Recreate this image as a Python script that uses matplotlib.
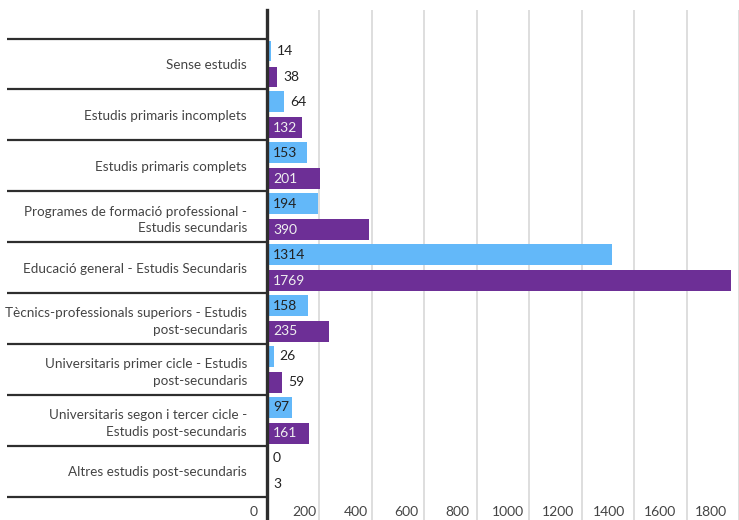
import matplotlib.pyplot as plt

categories = [
    'Sense estudis',
    'Estudis primaris incomplets',
    'Estudis primaris complets',
    'Programes de formació professional -\nEstudis secundaris',
    'Educació general - Estudis Secundaris',
    'Tècnics-professionals superiors - Estudis\npost-secundaris',
    'Universitaris primer cicle - Estudis\npost-secundaris',
    'Universitaris segon i tercer cicle -\nEstudis post-secundaris',
    'Altres estudis post-secundaris',
]
serie_a = [14, 64, 153, 194, 1314, 158, 26, 97, 0]
serie_b = [38, 132, 201, 390, 1769, 235, 59, 161, 3]
x_ticks = [0, 200, 400, 600, 800, 1000, 1200, 1400, 1600, 1800]

plt.rcParams['font.family'] = ['Lato', 'DejaVu Sans']

W, H = 739, 520
fig = plt.figure(figsize=(W / 100, H / 100), dpi=100)
# axes: from the vertical axis line (x=267px) to the right edge, y 10px..520px
ax = fig.add_axes([267 / W, 0, (W - 267) / W, 510 / H])

color_a = '#63b8f9'
color_b = '#6d2f96'
bar_h = 0.41
off = 0.255

ys = list(range(len(categories)))
ax.barh([y - off for y in ys], serie_a, height=bar_h, color=color_a, zorder=2)
ax.barh([y + off for y in ys], serie_b, height=bar_h, color=color_b, zorder=2)

# value labels: inside (at start) for wide bars, outside for small ones
for y, va, vb in zip(ys, serie_a, serie_b):
    for val, yy, inside_col in ((va, y - off, '#222222'), (vb, y + off, '#f0f0f0')):
        if val >= 90:
            ax.annotate(str(val), xy=(0, yy), xytext=(4.3, 0), textcoords='offset points',
                        va='center', ha='left', fontsize=10, color=inside_col, zorder=4)
        else:
            ax.annotate(str(val), xy=(val, yy), xytext=(4.3, 0), textcoords='offset points',
                        va='center', ha='left', fontsize=10, color='#222222', zorder=4)

ax.set_xlim(0, 1775)
ax.set_ylim(8.959, -1.061)

ax.set_yticks(ys)
ax.set_yticklabels(categories, fontsize=9.7, color='#444444', linespacing=1.45)
ax.tick_params(axis='y', length=0, pad=14.4)

ax.set_xticks(x_ticks)
ax.set_xticklabels([])
ax.tick_params(axis='x', length=0)
ax.grid(axis='x', color='#d4d4d4', linewidth=1.1, zorder=0)
ax.set_axisbelow(True)

# tick labels sit a little left of their gridlines
for v in x_ticks:
    shift = -(13 + v * 0.0085) * 0.72
    ax.annotate(str(v), xy=(v, 0.016), xycoords=('data', 'axes fraction'),
                xytext=(shift, 0), textcoords='offset points', ha='center', va='center',
                fontsize=10, color='#444444', annotation_clip=False)

for s in ['top', 'right', 'bottom']:
    ax.spines[s].set_visible(False)
ax.spines['left'].set_linewidth(2.4)
ax.spines['left'].set_color('#2e2e2e')
ax.spines['left'].set_zorder(3)

# group separators extending to the left of the axis
seps = [y - 0.5 for y in ys] + [len(ys) - 0.5]
ax.hlines(seps, (7 - 267) / (W - 267), 0, transform=ax.get_yaxis_transform(),
          color='#2e2e2e', linewidth=1.6, clip_on=False)

fig.savefig('out.png', dpi=100)
